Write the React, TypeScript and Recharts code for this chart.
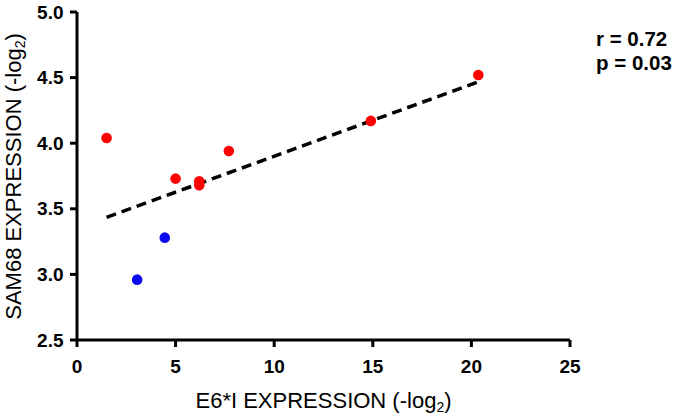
import {
  ScatterChart,
  Scatter,
  XAxis,
  YAxis,
  ReferenceLine,
  Label,
} from "recharts";

// E6*I vs SAM68 expression, two groups
const redPoints = [
  { x: 1.5, y: 4.04 },
  { x: 5.0, y: 3.73 },
  { x: 6.2, y: 3.71 },
  { x: 6.2, y: 3.68 },
  { x: 7.7, y: 3.94 },
  { x: 14.9, y: 4.17 },
  { x: 20.35, y: 4.52 },
];

const bluePoints = [
  { x: 3.05, y: 2.96 },
  { x: 4.45, y: 3.28 },
];

// ends of the regression line
const fitLine = [
  { x: 1.5, y: 3.435 },
  { x: 20.3, y: 4.465 },
];

const xTicks = [0, 5, 10, 15, 20, 25];
const yTicks = [2.5, 3.0, 3.5, 4.0, 4.5, 5.0];

const stats = ["r = 0.72", "p = 0.03"];

const FONT = "'Liberation Sans', Arial, sans-serif";
const TITLE_SIZE = 22;
const TICK_SIZE = 19;

const dot = (color: string) => (props: any) =>
  <circle cx={props.cx} cy={props.cy} r={5.3} fill={color} />;

function XTick(props: any) {
  const { x, payload } = props;
  return (
    <text
      x={x}
      y={373}
      textAnchor="middle"
      fontFamily={FONT}
      fontSize={TICK_SIZE}
      fontWeight={700}
      fill="#000"
    >
      {payload.value}
    </text>
  );
}

function YTick(props: any) {
  const { y, payload } = props;
  return (
    <text
      x={63.5}
      y={y + 6.5}
      textAnchor="end"
      fontFamily={FONT}
      fontSize={TICK_SIZE}
      fontWeight={700}
      fill="#000"
    >
      {Number(payload.value).toFixed(1)}
    </text>
  );
}

function YTitle() {
  const cx = 20.5;
  const cy = 176.5;
  return (
    <text
      x={cx}
      y={cy}
      transform={`rotate(-90, ${cx}, ${cy})`}
      textAnchor="middle"
      fontFamily={FONT}
      fontSize={TITLE_SIZE}
      fill="#000"
    >
      SAM68 EXPRESSION (-log
      <tspan fontSize={14} dy={4}>2</tspan>
      <tspan dy={-4}>)</tspan>
    </text>
  );
}

function XTitle(props: any) {
  const { viewBox } = props;
  const cx = viewBox.x + viewBox.width / 2;
  return (
    <text
      x={cx}
      y={407.5}
      textAnchor="middle"
      fontFamily={FONT}
      fontSize={TITLE_SIZE}
      fill="#000"
    >
      E6*I EXPRESSION (-log
      <tspan fontSize={14} dy={4}>2</tspan>
      <tspan dy={-4}>)</tspan>
    </text>
  );
}

export default function App() {
  return (
    <div style={{ position: "fixed", top: 0, left: 0, background: "#fff" }}>
      <div style={{ position: "relative", width: 677, height: 413 }}>
        <ScatterChart
          width={677}
          height={413}
          margin={{ top: 12, right: 107, bottom: 0, left: 0 }}
        >
          <XAxis
            type="number"
            dataKey="x"
            domain={[0, 25]}
            ticks={xTicks}
            height={73}
            axisLine={{ stroke: "#000", strokeWidth: 3 }}
            tickLine={{ stroke: "#000", strokeWidth: 3 }}
            tickSize={7}
            tickMargin={0}
            tick={<XTick />}
            interval={0}
          >
            <Label content={<XTitle />} />
          </XAxis>
          <YAxis
            type="number"
            dataKey="y"
            domain={[2.5, 5]}
            ticks={yTicks}
            width={77}
            axisLine={{ stroke: "#000", strokeWidth: 3 }}
            tickLine={{ stroke: "#000", strokeWidth: 3 }}
            tickSize={7}
            tickMargin={0}
            tick={<YTick />}
            interval={0}
          >
            <Label content={<YTitle />} />
          </YAxis>
          <ReferenceLine
            segment={fitLine}
            stroke="#000"
            strokeWidth={3.5}
            strokeDasharray="10 6"
          />
          <Scatter
            data={redPoints}
            shape={dot("#ff0000")}
            isAnimationActive={false}
          />
          <Scatter
            data={bluePoints}
            shape={dot("#0a0af0")}
            isAnimationActive={false}
          />
        </ScatterChart>
        <svg
          width={677}
          height={413}
          style={{ position: "absolute", left: 0, top: 0, pointerEvents: "none" }}
        >
          {stats.map((s, i) => (
            <text
              key={s}
              x={596}
              y={46 + i * 23.5}
              fontFamily={FONT}
              fontSize={20.5}
              fontWeight={700}
              fill="#000"
            >
              {s}
            </text>
          ))}
        </svg>
      </div>
    </div>
  );
}
